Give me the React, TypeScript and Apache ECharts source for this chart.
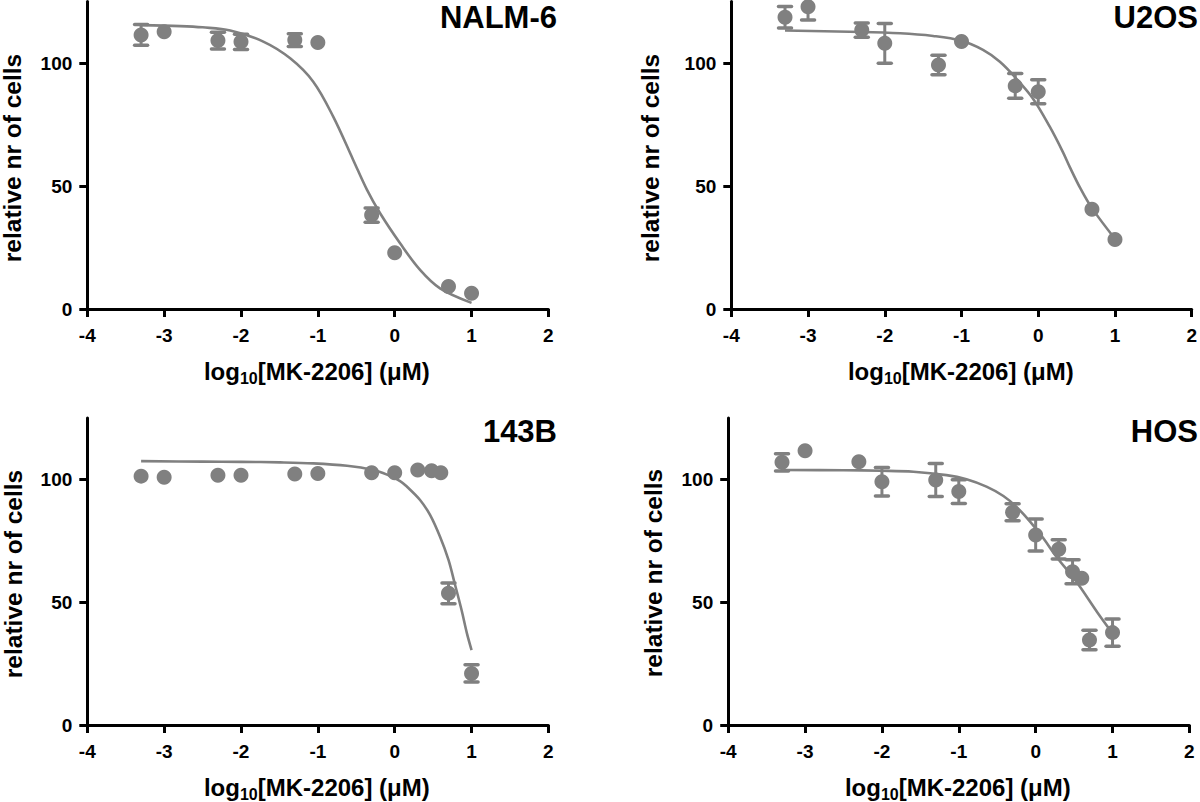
import React, { useEffect, useRef } from "react";
import * as echarts from "echarts";

// ---------- data ----------
const panelNames = ["NALM-6", "U2OS", "143B", "HOS"];

// NALM-6 (sem 0 = error bar hidden behind the marker)
const nalmX = [-3.3, -3, -2.3, -2, -1.3, -1, -0.3, 0, 0.7, 1];
const nalmMean = [111.4, 112.7, 109.1, 108.6, 109.3, 108.3, 38.2, 22.9, 9.1, 6.4];
const nalmSem = [4.2, 0, 3.4, 3.1, 2.6, 0, 2.9, 0, 0, 0];
const nalmCurveX = [-3.3, -2.79, -2.5, -2.14, -1.71, -1.36, -1.06, -0.8, -0.54, -0.36, -0.19, 0.07, 0.33, 0.59, 1];
const nalmCurveY = [115.4, 115.0, 114.5, 113.2, 108.7, 101.9, 92.4, 78.2, 60.6, 48.4, 38.9, 26.7, 15.9, 8.4, 2.5];

// U2OS
const u2osX = [-3.3, -3, -2.3, -2, -1.3, -1, -0.3, 0, 0.7, 1];
const u2osMean = [118.6, 122.9, 113.4, 108.0, 99.2, 108.7, 90.7, 88.3, 40.5, 28.3];
const u2osSem = [4.4, 5.4, 2.9, 8.1, 4.0, 0, 5.0, 4.9, 0, 0];
const u2osCurveX = [-3.3, -2.46, -1.8, -1.37, -1.01, -0.72, -0.5, -0.29, -0.07, 0.15, 0.32, 0.41, 0.55, 0.7, 1];
const u2osCurveY = [113.2, 112.7, 112.1, 111.0, 109.1, 105.3, 100.5, 93.8, 85.6, 74.1, 63.9, 57.8, 49.0, 41.0, 28.5];

// 143B
const b143X = [-3.3, -3, -2.3, -2, -1.3, -1, -0.3, 0, 0.3, 0.48, 0.6, 0.7, 1];
const b143Mean = [101.3, 100.8, 101.7, 101.7, 102.2, 102.4, 102.7, 102.7, 103.8, 103.5, 102.7, 53.6, 21.0];
const b143Sem = [0, 0, 0, 0, 0, 0, 0, 0, 0, 0, 0, 4.2, 3.5];
const b143CurveX = [-3.3, -2.5, -2, -1.49, -1.06, -0.62, -0.28, -0.1, 0.07, 0.16, 0.33, 0.46, 0.59, 0.7, 0.78, 0.87, 0.94, 1];
const b143CurveY = [107.4, 107.2, 107.1, 106.9, 106.5, 105.5, 103.8, 101.9, 99.3, 97.0, 91.6, 85.5, 76.6, 67.2, 57.7, 46.8, 37.3, 30.5];

// HOS
const hosX = [-3.3, -3, -2.3, -2, -1.3, -1, -0.3, 0, 0.3, 0.48, 0.6, 0.7, 1];
const hosMean = [106.9, 111.6, 107.2, 99.0, 99.7, 95.0, 86.6, 77.3, 71.5, 62.4, 59.7, 34.6, 37.6];
const hosSem = [3.5, 0, 0, 5.8, 6.7, 4.8, 3.5, 6.5, 3.9, 4.9, 0, 4.0, 5.5];
const hosCurveX = [-3.3, -2.5, -2.02, -1.59, -1.16, -0.9, -0.64, -0.42, -0.25, -0.07, 0.1, 0.27, 0.53, 0.81, 1];
const hosCurveY = [103.8, 103.7, 103.5, 103.1, 101.7, 100.0, 97.0, 93.2, 88.8, 82.7, 76.0, 68.5, 58.3, 45.5, 37.3];

const yTickValues = [0, 50, 100];
const xAxisTitle = "log";
const xAxisSub = "10";
const xAxisRest = "[MK-2206] (\u03bcM)";
const yAxisTitle = "relative nr of cells";

// ---------- layout / style ----------
const GRAY = "#808080";
const FONT = "'Liberation Sans', Arial, Helvetica, sans-serif";

const grids = [
  { left: 87.3, top: 1.5, width: 461.1, height: 307.5 },
  { left: 731.3, top: 1.5, width: 461.1, height: 307.5 },
  { left: 87.3, top: 417.9, width: 461.1, height: 307.1 },
  { left: 728.2, top: 417.9, width: 461.2, height: 307.1 },
];

const titlePos = [
  { x: 557, y: 17.5 },
  { x: 1198, y: 17.5 },
  { x: 557, y: 431 },
  { x: 1198, y: 431 },
];
const yTitlePos = [
  { x: 12.4, y: 158 },
  { x: 650, y: 158 },
  { x: 13.4, y: 574 },
  { x: 653.6, y: 573 },
];
const xTitleY = [371, 371, 787, 787];

const panels = [
  { x: nalmX, mean: nalmMean, sem: nalmSem, cx: nalmCurveX, cy: nalmCurveY },
  { x: u2osX, mean: u2osMean, sem: u2osSem, cx: u2osCurveX, cy: u2osCurveY },
  { x: b143X, mean: b143Mean, sem: b143Sem, cx: b143CurveX, cy: b143CurveY },
  { x: hosX, mean: hosMean, sem: hosSem, cx: hosCurveX, cy: hosCurveY },
];

function buildOption() {
  const xAxes: any[] = [];
  const yAxes: any[] = [];
  const series: any[] = [];
  const graphics: any[] = [];

  panels.forEach((p, i) => {
    xAxes.push({
      type: "value",
      gridIndex: i,
      min: -4,
      max: 2,
      interval: 1,
      axisLine: { show: true, onZero: false, lineStyle: { color: "#000", width: 3 } },
      axisTick: { show: true, length: 8, lineStyle: { color: "#000", width: 3 } },
      axisLabel: { color: "#000", fontSize: 19, fontWeight: "bold", fontFamily: FONT, margin: 17 },
      splitLine: { show: false },
    });
    yAxes.push({
      type: "value",
      gridIndex: i,
      min: 0,
      max: 125,
      interval: 50,
      axisLine: { show: true, onZero: false, lineStyle: { color: "#000", width: 3 } },
      axisTick: { show: true, length: 8, customValues: yTickValues, lineStyle: { color: "#000", width: 3 } },
      axisLabel: { color: "#000", fontSize: 19, fontWeight: "bold", fontFamily: FONT, margin: 15, customValues: yTickValues },
      splitLine: { show: false },
    });

    series.push({
      type: "line",
      xAxisIndex: i,
      yAxisIndex: i,
      data: p.cx.map((v, k) => [v, p.cy[k]]),
      showSymbol: false,
      smooth: 0.35,
      lineStyle: { color: GRAY, width: 2.6 },
      z: 2,
    });
    series.push({
      type: "custom",
      xAxisIndex: i,
      yAxisIndex: i,
      clip: true,
      data: p.x.map((v, k) => [v, p.mean[k] - p.sem[k], p.mean[k] + p.sem[k], p.sem[k]]),
      encode: { x: 0, y: [1, 2] },
      renderItem: (params: any, api: any) => {
        if (!api.value(3)) return null;
        const xv = api.value(0);
        const lo = api.coord([xv, api.value(1)]);
        const hi = api.coord([xv, api.value(2)]);
        const hw = 6.5;
        const style = { stroke: GRAY, lineWidth: 3.5, lineCap: "round" };
        return {
          type: "group",
          children: [
            { type: "line", shape: { x1: lo[0], y1: lo[1], x2: hi[0], y2: hi[1] }, style: { stroke: GRAY, lineWidth: 3 } },
            { type: "line", shape: { x1: lo[0] - hw, y1: lo[1], x2: lo[0] + hw, y2: lo[1] }, style },
            { type: "line", shape: { x1: hi[0] - hw, y1: hi[1], x2: hi[0] + hw, y2: hi[1] }, style },
          ],
        };
      },
      z: 3,
    });
    series.push({
      type: "scatter",
      xAxisIndex: i,
      yAxisIndex: i,
      data: p.x.map((v, k) => [v, p.mean[k]]),
      symbol: "circle",
      symbolSize: 15,
      itemStyle: { color: GRAY, opacity: 1 },
      z: 4,
    });

    graphics.push({
      type: "text",
      x: titlePos[i].x,
      y: titlePos[i].y,
      style: {
        text: panelNames[i],
        fill: "#000",
        font: `bold 31px ${FONT}`,
        lineHeight: 31,
        align: "right",
        verticalAlign: "middle",
      },
    });
    graphics.push({
      type: "text",
      x: yTitlePos[i].x,
      y: yTitlePos[i].y,
      rotation: Math.PI / 2,
      style: {
        text: yAxisTitle,
        fill: "#000",
        font: `bold 24.5px ${FONT}`,
        align: "center",
        verticalAlign: "middle",
      },
    });
    const g = grids[i];
    graphics.push({
      type: "text",
      x: g.left + g.width / 2 - 1,
      y: xTitleY[i],
      style: {
        text: `{a|${xAxisTitle}}{s|${xAxisSub}}{a|${xAxisRest}}`,
        align: "center",
        verticalAlign: "middle",
        rich: {
          a: { fontSize: 24, fontWeight: "bold", fontFamily: FONT, fill: "#000", color: "#000", lineHeight: 30, verticalAlign: "middle" },
          s: { fontSize: 16, fontWeight: "bold", fontFamily: FONT, fill: "#000", color: "#000", lineHeight: 12, verticalAlign: "bottom" },
        },
      },
    });
  });

  return {
    animation: false,
    backgroundColor: "#fff",
    grid: grids.map((g) => ({ ...g, containLabel: false })),
    xAxis: xAxes,
    yAxis: yAxes,
    series,
    graphic: graphics,
  };
}

export default function App() {
  const ref = useRef<HTMLDivElement>(null);
  useEffect(() => {
    document.body.style.margin = "0";
    const chart = echarts.init(ref.current!, null, { renderer: "svg" });
    chart.setOption(buildOption() as any);
    return () => chart.dispose();
  }, []);
  return <div ref={ref} style={{ width: 1200, height: 802 }} />;
}
